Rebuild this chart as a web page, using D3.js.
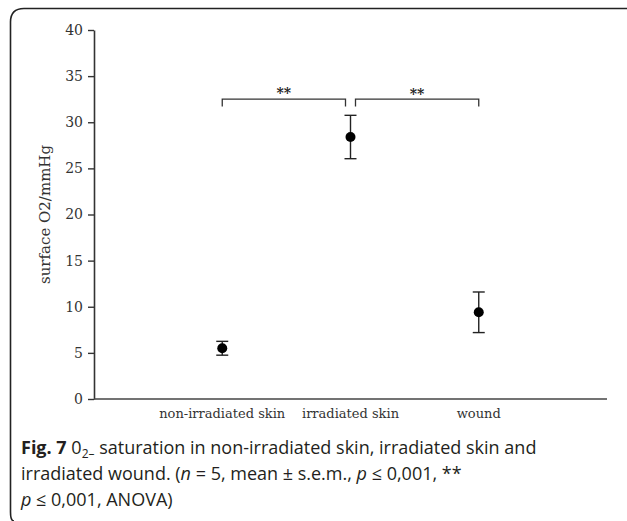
<!DOCTYPE html>
<meta charset="utf-8">
<script src="https://d3js.org/d3.v7.min.js"></script>
<style>
  body { margin: 0; background: #fff; }
</style>
<div id="chart"></div>
<script>

// data
var categories = ["non-irradiated skin", "irradiated skin", "wound"];
var means = [5.5, 28.4, 9.4];
var sems = [0.75, 2.35, 2.2];
var yTicks = [0, 5, 10, 15, 20, 25, 30, 35, 40];
var bracketPairs = [[0, 1], [1, 2]];
var bracketLevel = 32.5;
var bracketLabels = ["**", "**"];

var W = 627, H = 521;

var svg = d3.select("#chart")
  .append("svg")
    .attr("width", W)
    .attr("height", H);

// frame around figure (top + left edges, rounded corners)
svg.append("path")
  .attr("d", "M14,521 Q10.5,521 10.5,512 L10.5,22 Q10.5,8.5 24,8.5 L627,8.5")
  .attr("fill", "none")
  .attr("stroke", "#222")
  .attr("stroke-width", 1.6);

// scales
var x = d3.scaleLinear()
  .domain([0, 4])
  .range([94, 607]);

var y = d3.scaleLinear()
  .domain([0, 40])
  .range([399, 30]);

var serif = "'DejaVu Serif', serif";

// y axis
var yAxis = svg.append("g")
  .attr("transform", "translate(" + x(0) + ",0)")
  .call(d3.axisLeft(y).tickValues(yTicks).tickSize(6).tickSizeOuter(0).tickPadding(5));
yAxis.select(".domain").attr("stroke", "#333").attr("stroke-width", 1.6);
yAxis.selectAll(".tick line").attr("stroke", "#333").attr("stroke-width", 1.4);
yAxis.selectAll("text")
  .attr("font-family", serif)
  .attr("font-size", "14px")
  .attr("fill", "#333");

// x axis line
svg.append("line")
  .attr("x1", x(0)).attr("x2", x(4))
  .attr("y1", y(0)).attr("y2", y(0))
  .attr("stroke", "#444")
  .attr("stroke-width", 1.6);

// category labels
svg.selectAll(".catlabel")
  .data(categories)
  .enter()
  .append("text")
    .attr("class", "catlabel")
    .attr("x", function(d, i) { return x(i + 1); })
    .attr("y", 418)
    .attr("text-anchor", "middle")
    .attr("font-family", serif)
    .attr("font-size", "13px")
    .attr("fill", "#333")
    .text(function(d) { return d; });

// y axis title
svg.append("text")
  .attr("transform", "translate(50," + y(20) + ") rotate(-90)")
  .attr("text-anchor", "middle")
  .attr("font-family", serif)
  .attr("font-size", "15px")
  .attr("fill", "#333")
  .text("surface O2/mmHg");

// error bars
var eb = svg.selectAll(".eb")
  .data(means)
  .enter()
  .append("g")
    .attr("class", "eb");
eb.append("line")
  .attr("x1", function(d, i) { return x(i + 1); })
  .attr("x2", function(d, i) { return x(i + 1); })
  .attr("y1", function(d, i) { return y(d + sems[i]); })
  .attr("y2", function(d, i) { return y(d - sems[i]); })
  .attr("stroke", "#222").attr("stroke-width", 1.4);
eb.append("line")
  .attr("x1", function(d, i) { return x(i + 1) - 6; })
  .attr("x2", function(d, i) { return x(i + 1) + 6; })
  .attr("y1", function(d, i) { return y(d + sems[i]); })
  .attr("y2", function(d, i) { return y(d + sems[i]); })
  .attr("stroke", "#222").attr("stroke-width", 1.4);
eb.append("line")
  .attr("x1", function(d, i) { return x(i + 1) - 6; })
  .attr("x2", function(d, i) { return x(i + 1) + 6; })
  .attr("y1", function(d, i) { return y(d - sems[i]); })
  .attr("y2", function(d, i) { return y(d - sems[i]); })
  .attr("stroke", "#222").attr("stroke-width", 1.4);

// points
svg.selectAll(".pt")
  .data(means)
  .enter()
  .append("circle")
    .attr("class", "pt")
    .attr("cx", function(d, i) { return x(i + 1); })
    .attr("cy", function(d) { return y(d); })
    .attr("r", 5)
    .attr("fill", "#000");

// significance brackets
bracketPairs.forEach(function(p, k) {
  var x1 = x(p[0] + 1) + (k === 0 ? 0 : 5);
  var x2 = x(p[1] + 1) - (k === 0 ? 5 : 0);
  var yb = y(bracketLevel);
  var yt = y(bracketLevel - 0.8);
  svg.append("path")
    .attr("d", "M" + x1 + "," + yt + " L" + x1 + "," + yb + " L" + x2 + "," + yb + " L" + x2 + "," + yt)
    .attr("fill", "none")
    .attr("stroke", "#333")
    .attr("stroke-width", 1.3);
  svg.append("text")
    .attr("x", (x1 + x2) / 2)
    .attr("y", yb - 1 + k)
    .attr("text-anchor", "middle")
    .attr("font-family", serif)
    .attr("font-size", "14px")
    .attr("font-weight", "bold")
    .attr("fill", "#222")
    .text(bracketLabels[k]);
});

// caption
var sans = "'Open Sans', sans-serif";
var cap = svg.append("g")
  .attr("font-family", sans)
  .attr("font-size", "18px")
  .attr("fill", "#231f20");

var l1 = cap.append("text").attr("x", 21).attr("y", 454);
l1.append("tspan").attr("font-weight", "bold").text("Fig. 7");
l1.append("tspan").text(" 0");
l1.append("tspan").attr("font-size", "12px").attr("dy", 4).text("2\u2013");
l1.append("tspan").attr("dy", -4).text(" saturation in non-irradiated skin, irradiated skin and");

var l2 = cap.append("text").attr("x", 21).attr("y", 480);
l2.append("tspan").text("irradiated wound. (");
l2.append("tspan").attr("font-style", "italic").text("n");
l2.append("tspan").text(" = 5, mean \u00b1 s.e.m., ");
l2.append("tspan").attr("font-style", "italic").text("p");
l2.append("tspan").text(" \u2264 0,001, **");

var l3 = cap.append("text").attr("x", 21).attr("y", 506);
l3.append("tspan").attr("font-style", "italic").text("p");
l3.append("tspan").text(" \u2264 0,001, ANOVA)");

</script>
